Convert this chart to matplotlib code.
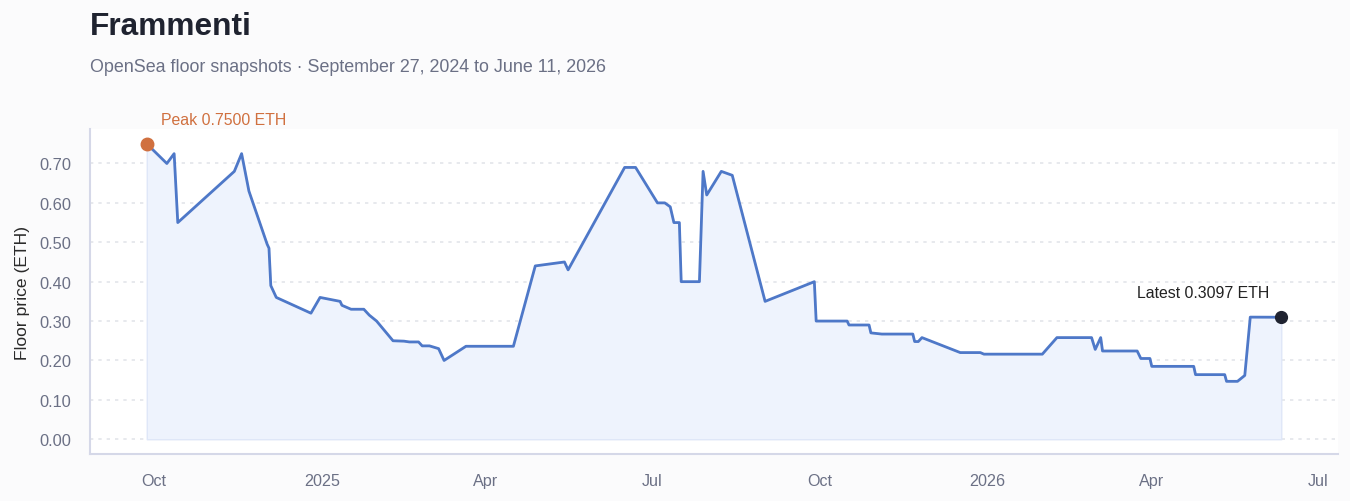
import matplotlib
matplotlib.use("Agg")
import matplotlib.pyplot as plt
import matplotlib.dates as mdates
import pandas as pd

plt.rcParams['font.family'] = ['Liberation Sans', 'DejaVu Sans']

# floor snapshots
snap_dates = [
    "2024-09-27", "2024-10-08", "2024-10-12", "2024-10-14", "2024-11-14",
    "2024-11-18", "2024-11-22", "2024-12-02", "2024-12-03", "2024-12-04",
    "2024-12-07", "2024-12-26", "2024-12-31", "2025-01-11", "2025-01-12",
    "2025-01-17", "2025-01-24", "2025-01-27", "2025-01-31", "2025-02-09",
    "2025-02-15", "2025-02-18", "2025-02-23", "2025-02-25", "2025-03-01",
    "2025-03-06", "2025-03-09", "2025-03-21", "2025-04-16", "2025-04-28",
    "2025-05-14", "2025-05-16", "2025-06-16", "2025-06-22", "2025-07-04",
    "2025-07-08", "2025-07-11", "2025-07-13", "2025-07-16", "2025-07-17",
    "2025-07-27", "2025-07-29", "2025-07-31", "2025-08-08", "2025-08-14",
    "2025-09-01", "2025-09-28", "2025-09-29", "2025-10-16", "2025-10-17",
    "2025-10-28", "2025-10-29", "2025-11-04", "2025-11-21", "2025-11-22",
    "2025-11-24", "2025-11-26", "2025-12-17", "2025-12-28", "2025-12-30",
    "2026-01-31", "2026-02-08", "2026-02-27", "2026-03-01", "2026-03-04",
    "2026-03-05", "2026-03-24", "2026-03-26", "2026-03-31", "2026-04-01",
    "2026-04-24", "2026-04-25", "2026-05-11", "2026-05-12", "2026-05-18",
    "2026-05-22", "2026-05-25", "2026-06-11",
]
floor_eth = [
    0.750, 0.700, 0.725, 0.550, 0.680,
    0.725, 0.630, 0.495, 0.485, 0.390,
    0.360, 0.320, 0.360, 0.350, 0.340,
    0.330, 0.330, 0.315, 0.300, 0.250,
    0.249, 0.247, 0.247, 0.237, 0.237,
    0.230, 0.200, 0.236, 0.236, 0.440,
    0.450, 0.430, 0.690, 0.690, 0.600,
    0.600, 0.590, 0.550, 0.550, 0.400,
    0.400, 0.680, 0.620, 0.680, 0.670,
    0.350, 0.400, 0.300, 0.300, 0.290,
    0.290, 0.270, 0.267, 0.267, 0.248,
    0.248, 0.258, 0.220, 0.220, 0.216,
    0.216, 0.258, 0.258, 0.228, 0.258,
    0.224, 0.224, 0.205, 0.205, 0.185,
    0.185, 0.164, 0.164, 0.147, 0.147,
    0.162, 0.310, 0.3097,
]
y_ticks = [0.0, 0.1, 0.2, 0.3, 0.4, 0.5, 0.6, 0.7]

x = pd.to_datetime(snap_dates)
peak_i = floor_eth.index(max(floor_eth))

LINE = '#4e78c8'
PEAK = '#d0703f'
INK = '#1f2330'
MUTED = '#6b7085'

fig = plt.figure(figsize=(13.5, 5.02), dpi=100, facecolor='#fbfbfc')
ax = fig.add_axes([0.0667, 0.0936, 0.9244, 0.6474])
ax.set_facecolor('white')

ax.fill_between(x, floor_eth, 0, facecolor='#eef3fd', edgecolor='#dfe7f8', lw=1, zorder=2)
ax.plot(x, floor_eth, color=LINE, lw=2.0, zorder=3)

# peak and latest markers
ax.plot(x[peak_i], floor_eth[peak_i], 'o', color=PEAK, ms=9, zorder=4)
ax.annotate(f"Peak {floor_eth[peak_i]:.4f} ETH", (x[peak_i], floor_eth[peak_i]),
            xytext=(10, 17.5), textcoords='offset points', ha='left', va='center',
            color=PEAK, fontsize=11.4)
ax.plot(x[-1], floor_eth[-1], 'o', color=INK, ms=8.5, zorder=4)
ax.annotate(f"Latest {floor_eth[-1]:.4f} ETH", (x[-1], floor_eth[-1]),
            xytext=(-9, 18), textcoords='offset points', ha='right', va='center',
            color='#222222', fontsize=11.4)

ax.set_ylim(-0.0375, 0.7875)
ax.set_yticks(y_ticks)
ax.yaxis.set_major_formatter(plt.FuncFormatter(lambda v, p: f"{v:.2f}"))
ax.grid(axis='y', color='#e3e5ea', lw=1.2, linestyle=(0, (2, 3)))
ax.set_axisbelow(True)

ax.xaxis.set_major_locator(mdates.MonthLocator(bymonth=[1, 4, 7, 10]))
ax.xaxis.set_major_formatter(plt.FuncFormatter(
    lambda v, p: mdates.num2date(v).strftime('%Y' if mdates.num2date(v).month == 1 else '%b')))

ax.tick_params(axis='both', length=0, labelsize=11.6, labelcolor=MUTED)
ax.tick_params(axis='y', labelsize=11.8, pad=13.5)
ax.tick_params(axis='x', pad=13.5)
ax.set_ylabel("Floor price (ETH)", fontsize=12.6, color='#2a2a2a', labelpad=6.5)

for s in ['top', 'right']:
    ax.spines[s].set_visible(False)
for s in ['left', 'bottom']:
    ax.spines[s].set_color('#d5d8e8')
    ax.spines[s].set_linewidth(1.5)

fig.text(0.0667, 0.930, "Frammenti", fontsize=22.8, fontweight='bold', color=INK, va='baseline')
fig.text(0.0667, 0.857, "OpenSea floor snapshots \u00b7 September 27, 2024 to June 11, 2026",
         fontsize=12.9, color=MUTED, va='baseline')

fig.savefig('out.png', dpi=100, facecolor=fig.get_facecolor())
